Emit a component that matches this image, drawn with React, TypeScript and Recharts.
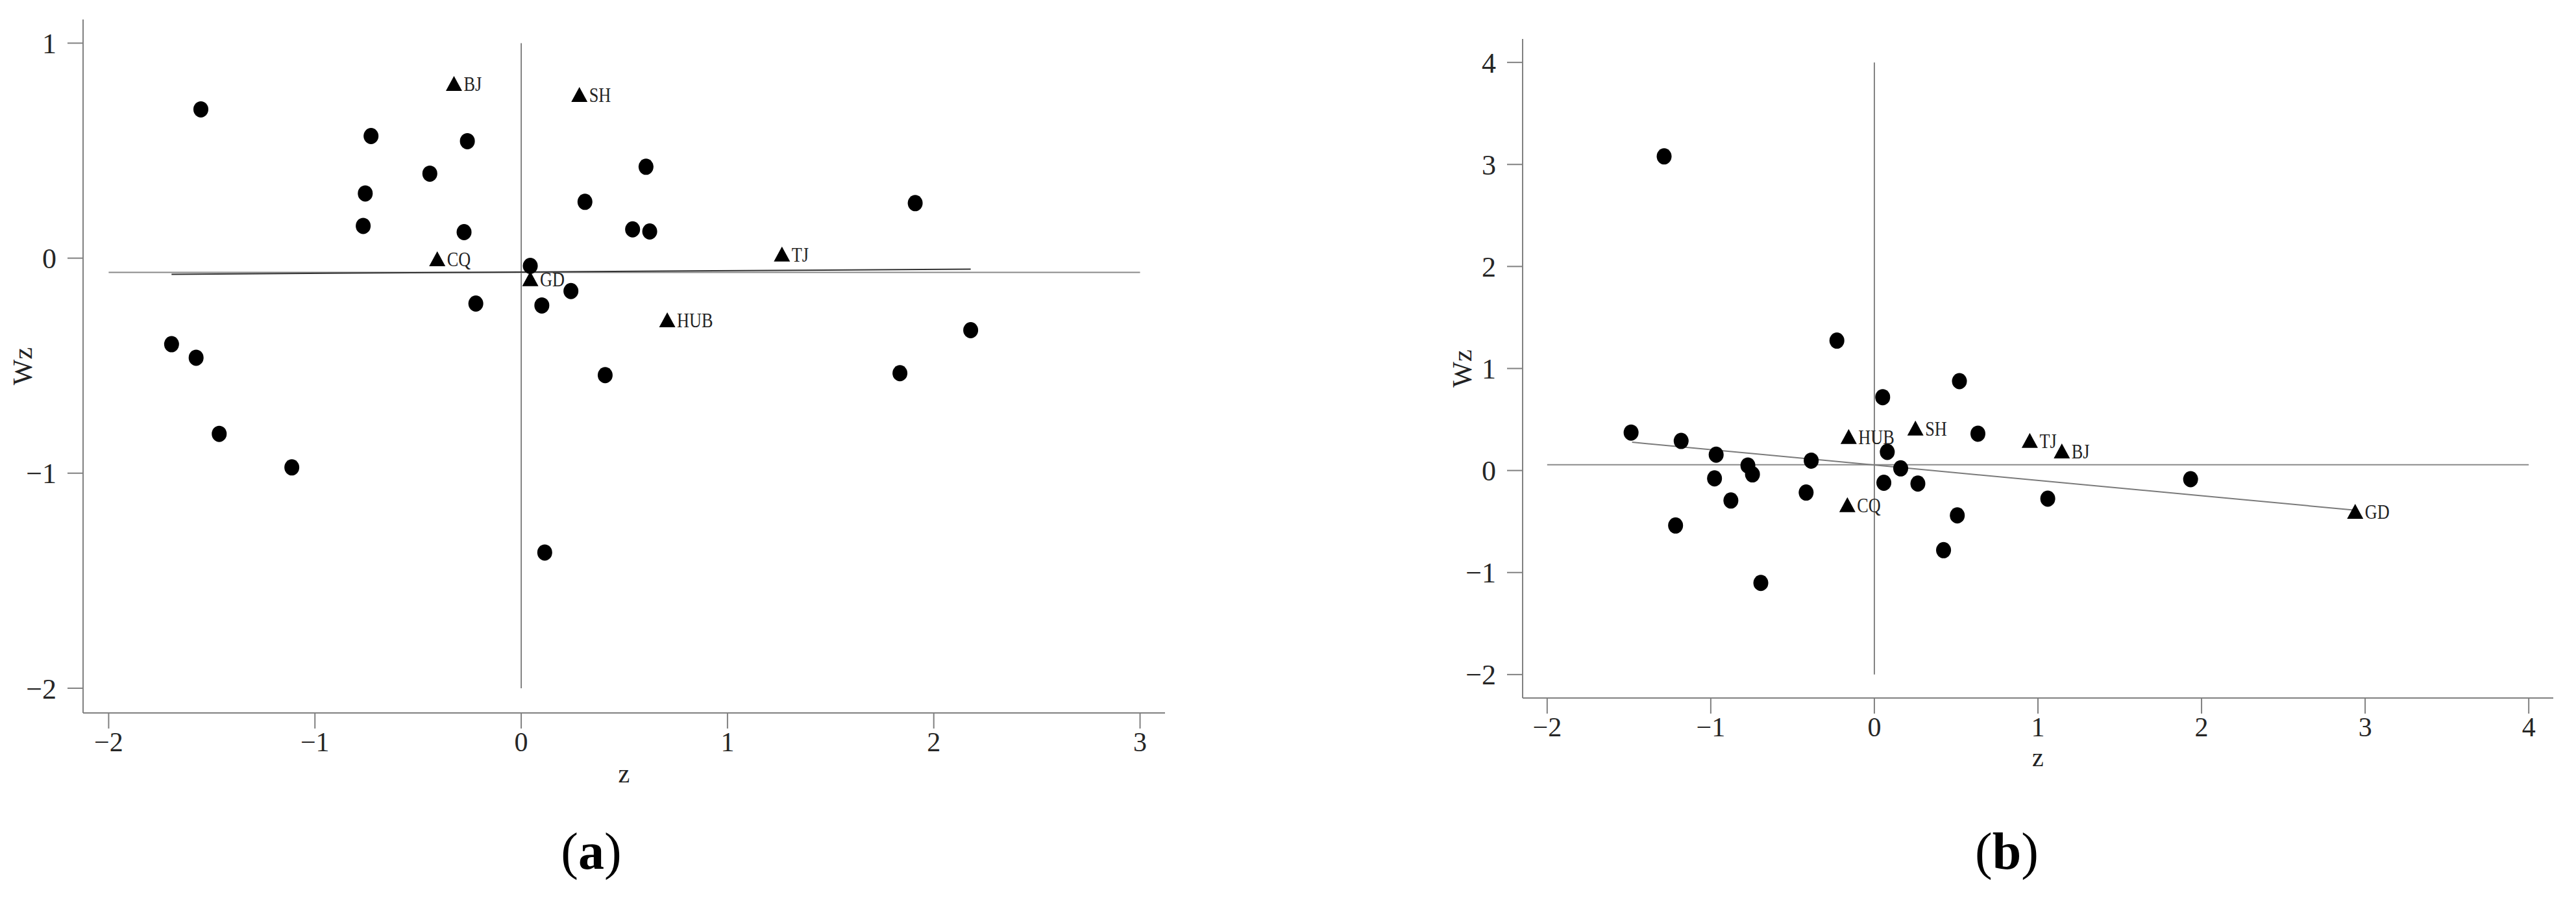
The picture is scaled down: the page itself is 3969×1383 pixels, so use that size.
import { ReferenceLine, Scatter, ScatterChart, XAxis, YAxis } from "recharts";

// panel (a) – unlabelled provinces
const aDotZ = [-1.553, -0.728, -0.261, -0.443, -0.756, -0.766, -0.277, 0.309, 0.605, 0.54, 0.623, 0.044, -0.22, 0.1, 0.241, -1.695, -1.576, -1.464, 0.407, 1.91, 2.179, 1.836, -1.112, 0.114];
const aDotWz = [0.692, 0.568, 0.544, 0.393, 0.301, 0.15, 0.121, 0.262, 0.425, 0.134, 0.124, -0.036, -0.211, -0.22, -0.153, -0.4, -0.463, -0.817, -0.544, 0.256, -0.335, -0.535, -0.973, -1.369];
// panel (a) – labelled provinces
const aTagNames = ["BJ", "SH", "CQ", "GD", "TJ", "HUB"];
const aTagZ = [-0.326, 0.282, -0.407, 0.044, 1.264, 0.708];
const aTagWz = [0.811, 0.76, -0.004, -0.097, 0.018, -0.288];
const aMeanWz = -0.066;
const aFitZ = [-1.695, 2.179];
const aFitWz = [-0.075, -0.051];
const aXTicks = [-2, -1, 0, 1, 2, 3];
const aYTicks = [-2, -1, 0, 1];

// panel (b)
const bDotZ = [-1.285, -0.229, 0.52, 0.051, -1.487, -1.181, -0.967, -0.773, -0.745, -0.386, -0.977, -0.877, -1.215, -0.417, -0.694, 0.079, 0.161, 0.058, 0.266, 0.507, 0.423, 0.633, 1.06, 1.933];
const bDotWz = [3.079, 1.273, 0.876, 0.719, 0.372, 0.29, 0.155, 0.049, -0.038, 0.097, -0.077, -0.294, -0.539, -0.216, -1.102, 0.182, 0.021, -0.12, -0.128, -0.44, -0.781, 0.361, -0.276, -0.085];
const bTagNames = ["HUB", "SH", "CQ", "TJ", "BJ", "GD"];
const bTagZ = [-0.157, 0.251, -0.165, 0.95, 1.146, 2.939];
const bTagWz = [0.33, 0.413, -0.338, 0.292, 0.188, -0.404];
const bMeanWz = 0.056;
const bFitZ = [-1.481, 2.939];
const bFitWz = [0.277, -0.389];
const bXTicks = [-2, -1, 0, 1, 2, 3, 4];
const bYTicks = [-2, -1, 0, 1, 2, 3, 4];

const FONT = '"Liberation Serif", "Times New Roman", serif';
const AXIS = "#808080";

const fmt = (v: number) => (v < 0 ? `\u2212${-v}` : `${v}`);

const Dot = (props: any) => {
  const { cx, cy } = props;
  return <ellipse cx={cx} cy={cy} rx={11.5} ry={12.5} fill="#000" />;
};

const Tri = (props: any) => {
  const { cx, cy, payload } = props;
  return (
    <g>
      <polygon points={`${cx},${cy - 12} ${cx - 12.5},${cy + 11} ${cx + 12.5},${cy + 11}`} fill="#000" />
      <text
        x={0}
        y={0}
        transform={`translate(${cx + 15},${cy + 11}) scale(0.82,1)`}
        fontSize={32}
        fontFamily={FONT}
        fill="#222"
      >
        {payload.name}
      </text>
    </g>
  );
};

type PanelProps = {
  left: number;
  width: number;
  margin: { top: number; right: number; bottom: number; left: number };
  xDomain: number[];
  yDomain: number[];
  xTicks: number[];
  yTicks: number[];
  dotZ: number[];
  dotWz: number[];
  tagNames: string[];
  tagZ: number[];
  tagWz: number[];
  mean: number;
  fitZ: number[];
  fitWz: number[];
  fitColor: string;
  zGap: number;
};

function Panel(p: PanelProps) {
  const dots = p.dotZ.map((z, i) => ({ z, wz: p.dotWz[i] }));
  const tags = p.tagNames.map((name, i) => ({ name, z: p.tagZ[i], wz: p.tagWz[i] }));
  const x0 = p.xTicks[0];
  const x1 = p.xTicks[p.xTicks.length - 1];
  const y0 = p.yTicks[0];
  const y1 = p.yTicks[p.yTicks.length - 1];

  const zTitle = (lp: any) => {
    const vb = lp.viewBox;
    return (
      <text x={vb.x + vb.width / 2} y={vb.y + p.zGap} textAnchor="middle" fontSize={40} fontFamily={FONT} fill="#222">
        z
      </text>
    );
  };
  const wzTitle = (lp: any) => {
    const vb = lp.viewBox;
    const x = vb.x + vb.width - 93;
    const y = vb.y + vb.height / 2;
    return (
      <text
        x={x}
        y={y}
        transform={`rotate(-90 ${x} ${y})`}
        textAnchor="middle"
        dominantBaseline="central"
        fontSize={42}
        fontFamily={FONT}
        fill="#222"
      >
        Wz
      </text>
    );
  };

  return (
    <div style={{ position: "absolute", left: p.left, top: 0 }}>
      <ScatterChart width={p.width} height={1383} margin={p.margin}>
        <XAxis
          type="number"
          dataKey="z"
          domain={p.xDomain}
          ticks={p.xTicks}
          allowDataOverflow
          height={100}
          axisLine={{ stroke: AXIS, strokeWidth: 2 }}
          tickLine={{ stroke: AXIS, strokeWidth: 2 }}
          tickSize={24}
          tickMargin={5}
          tick={{ fill: "#262626", fontSize: 42, fontFamily: FONT }}
          tickFormatter={fmt}
          label={zTitle}
        />
        <YAxis
          type="number"
          dataKey="wz"
          domain={p.yDomain}
          ticks={p.yTicks}
          allowDataOverflow
          width={100}
          axisLine={{ stroke: AXIS, strokeWidth: 2 }}
          tickLine={{ stroke: AXIS, strokeWidth: 2 }}
          tickSize={24}
          tickMargin={17}
          tick={{ fill: "#262626", fontSize: 44, fontFamily: FONT }}
          tickFormatter={fmt}
          label={wzTitle}
        />
        <ReferenceLine
          segment={[
            { x: 0, y: y1 },
            { x: 0, y: y0 },
          ]}
          stroke="#5a5a5a"
          strokeWidth={1.5}
        />
        <ReferenceLine
          segment={[
            { x: x0, y: p.mean },
            { x: x1, y: p.mean },
          ]}
          stroke="#8a8a8a"
          strokeWidth={2}
        />
        <ReferenceLine
          segment={[
            { x: p.fitZ[0], y: p.fitWz[0] },
            { x: p.fitZ[1], y: p.fitWz[1] },
          ]}
          stroke={p.fitColor}
          strokeWidth={2}
        />
        <Scatter data={dots} shape={Dot} isAnimationActive={false} />
        <Scatter data={tags} shape={Tri} isAnimationActive={false} />
      </ScatterChart>
    </div>
  );
}

const panelLabel = (left: number, letter: string) => (
  <div
    style={{
      position: "absolute",
      left: left - 100,
      top: 1271,
      width: 200,
      textAlign: "center",
      fontFamily: FONT,
      fontSize: 80,
      lineHeight: 1,
      color: "#000",
    }}
  >
    (<b>{letter}</b>)
  </div>
);

export default function App() {
  return (
    <div style={{ position: "absolute", left: 0, top: 0, width: 3969, height: 1383, background: "#fff", overflow: "hidden" }}>
      <Panel
        left={0}
        width={1900}
        margin={{ top: 30, right: 105, bottom: 185, left: 28 }}
        xDomain={[-2.124, 3.121]}
        yDomain={[-2.115, 1.11]}
        xTicks={aXTicks}
        yTicks={aYTicks}
        dotZ={aDotZ}
        dotWz={aDotWz}
        tagNames={aTagNames}
        tagZ={aTagZ}
        tagWz={aTagWz}
        mean={aMeanWz}
        fitZ={aFitZ}
        fitWz={aFitWz}
        fitColor="#333"
        zGap={107}
      />
      <Panel
        left={2200}
        width={1769}
        margin={{ top: 60, right: 35, bottom: 208, left: 46 }}
        xDomain={[-2.15, 4.15]}
        yDomain={[-2.23, 4.23]}
        xTicks={bXTicks}
        yTicks={bYTicks}
        dotZ={bDotZ}
        dotWz={bDotWz}
        tagNames={bTagNames}
        tagZ={bTagZ}
        tagWz={bTagWz}
        mean={bMeanWz}
        fitZ={bFitZ}
        fitWz={bFitWz}
        fitColor="#7a7a7a"
        zGap={105}
      />
      {panelLabel(911, "a")}
      {panelLabel(3092, "b")}
    </div>
  );
}
